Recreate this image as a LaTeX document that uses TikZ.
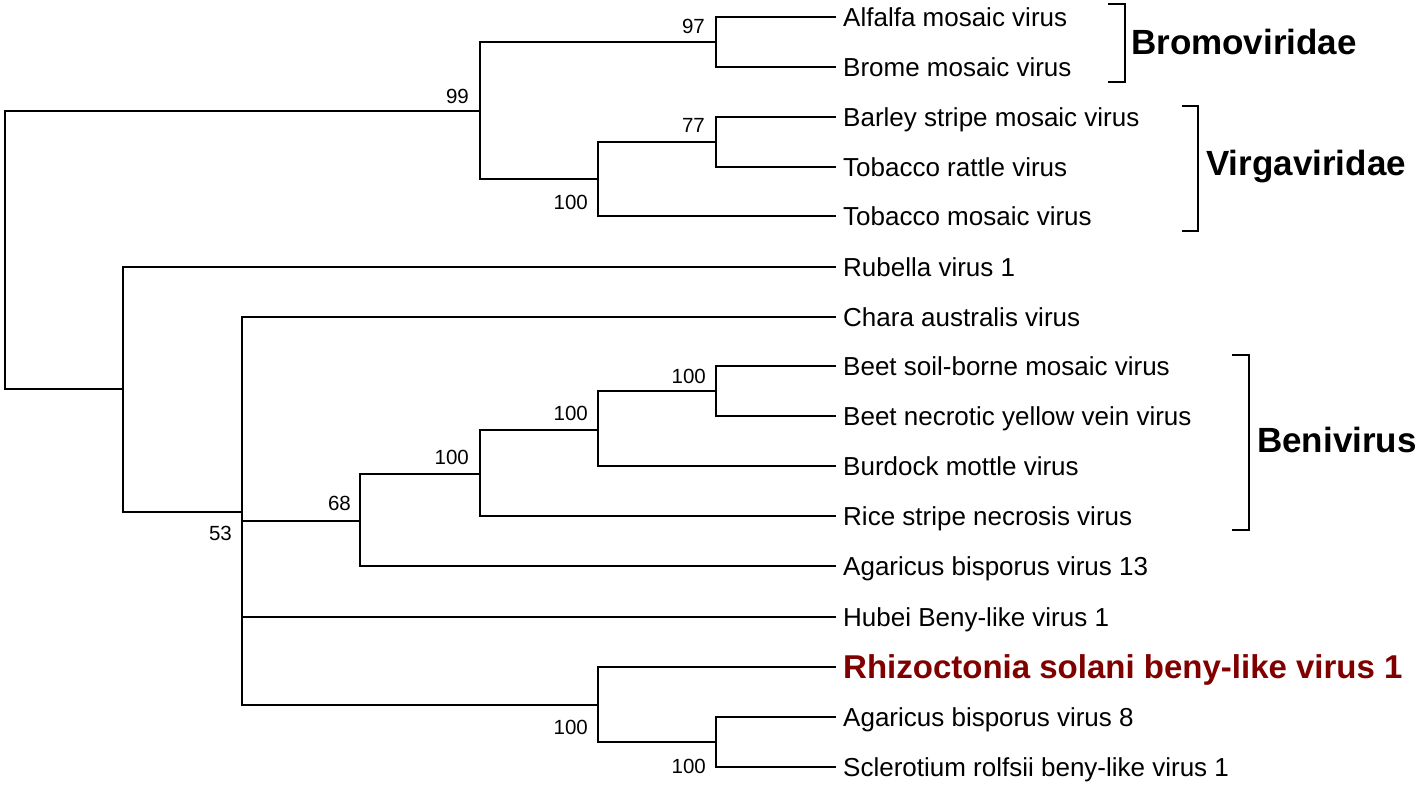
\documentclass[tikz,border=0pt]{standalone}
\usepackage{fontspec}
\setmainfont{Liberation Sans}
\definecolor{redlab}{RGB}{128,0,0}
\begin{document}
\begin{tikzpicture}[x=1pt,y=-1pt,
  br/.style={line width=2pt, line cap=rect},
  leaf/.style={anchor=west, inner xsep=8pt, inner ysep=0pt, text height=18.6pt, text depth=0pt, font=\fontsize{26}{26}\selectfont},
  redleaf/.style={leaf, text height=23.4pt, text=redlab, font=\fontsize{33}{33}\selectfont\bfseries},
  boot/.style={inner sep=0pt, anchor=east, font=\fontsize{20.5}{20.5}\selectfont},
  fam/.style={anchor=west, inner sep=0pt, font=\fontsize{35}{35}\selectfont\bfseries},
  brk/.style={line width=2pt}]
\useasboundingbox (0,0) rectangle (1418,786);
% leaves
\node[leaf] (alf) at (835,17) {Alfalfa mosaic virus};
\node[leaf] (bro) at (835,67) {Brome mosaic virus};
\node[leaf] (bar) at (835,117) {Barley stripe mosaic virus};
\node[leaf] (trv) at (835,167) {Tobacco rattle virus};
\node[leaf] (tmv) at (835,216) {Tobacco mosaic virus};
\node[leaf] (rub) at (835,267) {Rubella virus 1};
\node[leaf] (cha) at (835,317) {Chara australis virus};
\node[leaf] (bsb) at (835,366) {Beet soil-borne mosaic virus};
\node[leaf] (bny) at (835,416) {Beet necrotic yellow vein virus};
\node[leaf] (bur) at (835,466) {Burdock mottle virus};
\node[leaf] (ric) at (835,516) {Rice stripe necrosis virus};
\node[leaf] (ab13) at (835,566) {Agaricus bisporus virus 13};
\node[leaf] (hub) at (835,617) {Hubei Beny-like virus 1};
\node[redleaf] (rhi) at (835,667) {Rhizoctonia solani beny-like virus 1};
\node[leaf] (ab8) at (835,717) {Agaricus bisporus virus 8};
\node[leaf] (scl) at (835,767) {Sclerotium rolfsii beny-like virus 1};
% internal nodes
\coordinate (n97) at (716,42);
\coordinate (n77) at (716,142);
\coordinate (n100a) at (598,179);
\coordinate (n99) at (480,111);
\coordinate (root) at (5,250);
\coordinate (nR) at (123,389);
\coordinate (n53) at (242,512);
\coordinate (n68) at (360,521);
\coordinate (n100b) at (480,474);
\coordinate (n100c) at (598,430);
\coordinate (n100d) at (716,391);
\coordinate (nRh) at (598,705);
\coordinate (n100e) at (716,742);
% branches
\draw[br] (n97) |- (alf.west);
\draw[br] (n97) |- (bro.west);
\draw[br] (n77) |- (bar.west);
\draw[br] (n77) |- (trv.west);
\draw[br] (n100a) |- (n77);
\draw[br] (n100a) |- (tmv.west);
\draw[br] (n99) |- (n97);
\draw[br] (n99) |- (n100a);
\draw[br] (root) |- (n99);
\draw[br] (root) |- (nR);
\draw[br] (nR) |- (rub.west);
\draw[br] (nR) |- (n53);
\draw[br] (n53) |- (cha.west);
\draw[br] (n53) |- (n68);
\draw[br] (n53) |- (hub.west);
\draw[br] (n53) |- (nRh);
\draw[br] (n68) |- (n100b);
\draw[br] (n68) |- (ab13.west);
\draw[br] (n100b) |- (n100c);
\draw[br] (n100b) |- (ric.west);
\draw[br] (n100c) |- (n100d);
\draw[br] (n100c) |- (bur.west);
\draw[br] (n100d) |- (bsb.west);
\draw[br] (n100d) |- (bny.west);
\draw[br] (nRh) |- (rhi.west);
\draw[br] (nRh) |- (n100e);
\draw[br] (n100e) |- (ab8.west);
\draw[br] (n100e) |- (scl.west);
% bootstrap values
\node[boot] (b97) at (705,26) {97};
\node[boot] (b99) at (469,96) {99};
\node[boot] (b77) at (705,125) {77};
\node[boot] (b100a) at (588,202) {100};
\node[boot] (b53) at (232,533) {53};
\node[boot] (b68) at (351,503) {68};
\node[boot] (b100b) at (469,457) {100};
\node[boot] (b100c) at (588,413) {100};
\node[boot] (b100d) at (706,376) {100};
\node[boot] (b100e) at (588,727) {100};
\node[boot] (b100f) at (706,766) {100};
% brackets
\coordinate (k1a) at (1108,4); \coordinate (k1b) at (1125,82);
\coordinate (k2a) at (1182,106); \coordinate (k2b) at (1198,231);
\coordinate (k3a) at (1232,355); \coordinate (k3b) at (1249,530);
\draw[brk] (k1a) -| (k1b) -- (k1b -| k1a);
\draw[brk] (k2a) -| (k2b) -- (k2b -| k2a);
\draw[brk] (k3a) -| (k3b) -- (k3b -| k3a);
\node[fam] (fbro) at (1131,42) {Bromoviridae};
\node[fam] (fvir) at (1206,167) {Virgaviridae};
\node[fam] (fben) at (1257,440) {Benivirus};
\end{tikzpicture}
\end{document}
